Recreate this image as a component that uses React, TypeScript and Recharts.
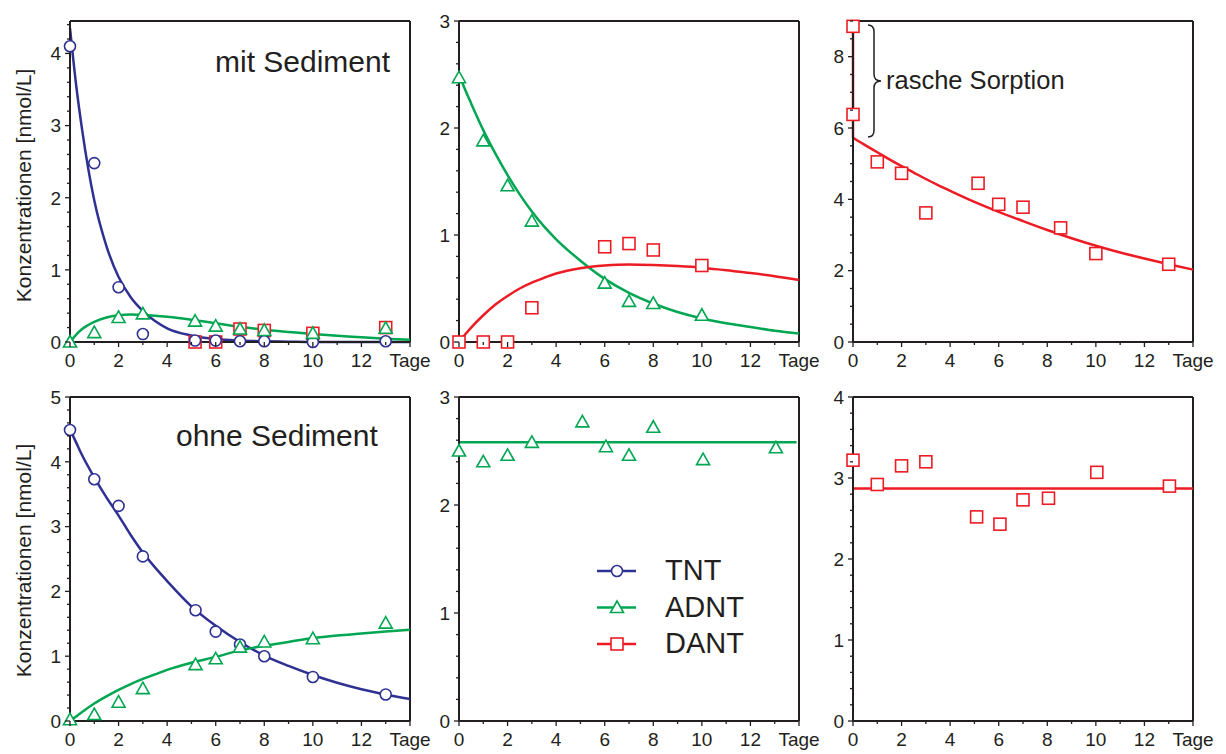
import { ComposedChart, Line, Scatter, XAxis, YAxis, ReferenceLine, Legend } from 'recharts'

const INK = '#231f20'
const BLUE = '#2e3192'
const GREEN = '#00a651'
const RED = '#ed1c24'
const FONT = "'Liberation Sans', Arial, Helvetica, sans-serif"

// x axis: days, last tick shows the unit
const xTicks = [0, 1, 2, 3, 4, 5, 6, 7, 8, 9, 10, 11, 12, 13, 14]
const xMajor = [0, 2, 4, 6, 8, 10, 12, 14]
const xUnit = 'Tage'

// days of the fitted curves
const fitDays = [0, 0.25, 0.5, 1, 1.5, 2, 2.5, 3, 3.5, 4, 5, 6, 7, 8, 9, 10, 11, 12, 13, 14]

// --- mit Sediment, TNT dosiert
const mitDays = [0, 1, 2, 3, 5.15, 6, 7, 8, 10, 13]
const mitTNT = [4.1, 2.48, 0.76, 0.11, 0.02, 0.02, 0.01, 0.01, 0.0, 0.01]
const mitADNT = [0.0, 0.13, 0.34, 0.39, 0.29, 0.22, 0.18, 0.16, 0.12, 0.19]
const mitDantDays = [5.15, 6, 7, 8, 10, 13]
const mitDANT = [0.0, 0.0, 0.18, 0.16, 0.12, 0.2]
const mitTNTFit = [4.35, 3.57, 2.94, 1.96, 1.33, 0.9, 0.62, 0.43, 0.29, 0.19, 0.09, 0.04, 0.02, 0.01, 0.005, 0, 0, 0, 0, 0]
const mitADNTFit = [0, 0.1, 0.18, 0.28, 0.34, 0.37, 0.38, 0.375, 0.365, 0.35, 0.31, 0.26, 0.21, 0.17, 0.14, 0.11, 0.085, 0.065, 0.045, 0.03]

// --- mit Sediment, ADNT dosiert
const adntDays = [0, 1, 2, 3, 6, 7, 8, 10]
const adntADNT = [2.47, 1.88, 1.46, 1.13, 0.55, 0.38, 0.36, 0.25]
const adntDANT = [0.0, 0.0, 0.0, 0.32, 0.89, 0.92, 0.86, 0.715]
const adntADNTFit = [2.5, 2.36, 2.23, 1.98, 1.76, 1.56, 1.38, 1.22, 1.08, 0.96, 0.76, 0.59, 0.46, 0.36, 0.28, 0.22, 0.175, 0.14, 0.105, 0.08]
const adntDANTFit = [0, 0.07, 0.135, 0.25, 0.35, 0.43, 0.5, 0.555, 0.6, 0.64, 0.69, 0.715, 0.725, 0.72, 0.71, 0.695, 0.67, 0.645, 0.615, 0.58]

// --- mit Sediment, DANT dosiert
const dantDays = [0, 0, 1, 2, 3, 5.15, 6, 7, 8.55, 10, 13]
const dantDANT = [8.85, 6.38, 5.05, 4.73, 3.62, 4.45, 3.86, 3.78, 3.2, 2.48, 2.18]
const sorptionDays = [0, 0]
const sorptionDANT = [8.85, 5.73]
const dantDANTFit = [5.73, 5.62, 5.52, 5.32, 5.12, 4.93, 4.75, 4.57, 4.4, 4.24, 3.93, 3.65, 3.39, 3.14, 2.91, 2.7, 2.51, 2.34, 2.18, 2.03]

// --- ohne Sediment, TNT dosiert
const ohneDays = [0, 1, 2, 3, 5.17, 6, 7, 8, 10, 13]
const ohneTNT = [4.49, 3.73, 3.32, 2.54, 1.71, 1.38, 1.18, 1.0, 0.68, 0.41]
const ohneADNT = [0.02, 0.1, 0.29, 0.5, 0.87, 0.96, 1.14, 1.22, 1.27, 1.51]
const ohneTNTFit = [4.5, 4.3, 4.1, 3.76, 3.45, 3.17, 2.87, 2.6, 2.37, 2.16, 1.77, 1.47, 1.22, 1.01, 0.85, 0.71, 0.59, 0.49, 0.41, 0.34]
const ohneADNTFit = [0, 0.07, 0.14, 0.27, 0.38, 0.48, 0.57, 0.65, 0.72, 0.79, 0.9, 0.99, 1.09, 1.16, 1.22, 1.28, 1.32, 1.35, 1.38, 1.41]

// --- ohne Sediment, ADNT dosiert
const ohneAdntDays = [0, 1, 2, 3, 5.08, 6.05, 7, 8, 10.05, 13.05]
const ohneAdntADNT = [2.5, 2.4, 2.46, 2.58, 2.77, 2.54, 2.46, 2.72, 2.42, 2.53]
const ohneAdntFitDays = [0, 13.9]
const ohneAdntFit = [2.58, 2.58]

// --- ohne Sediment, DANT dosiert
const ohneDantDays = [0, 1, 2, 3, 5.09, 6.05, 7, 8.05, 10.04, 13.03]
const ohneDantDANT = [3.22, 2.92, 3.15, 3.2, 2.52, 2.43, 2.73, 2.75, 3.07, 2.9]
const ohneDantFitDays = [0, 14]
const ohneDantFit = [2.87, 2.87]

const legendItems = [
    { name: 'TNT', color: BLUE, mark: 'circle' },
    { name: 'ADNT', color: GREEN, mark: 'triangle' },
    { name: 'DANT', color: RED, mark: 'square' },
]

const pts = (days: number[], vals: number[]) => days.map((t, i) => ({ t, v: vals[i] }))
const fit = (vals: number[]) => pts(fitDays, vals)
const steps = (max: number, step: number) =>
    Array.from({ length: Math.floor(max / step + 1e-9) + 1 }, (_, i) => Math.round(i * step * 100) / 100)

const Marker = ({ mark, color, cx, cy }: any) => {
    if (cx == null || cy == null) return null
    const common = { fill: '#fff', stroke: color, strokeWidth: 1.6 }
    if (mark === 'circle') return <circle cx={cx} cy={cy} r={5.5} {...common} />
    if (mark === 'square') return <rect x={cx - 6} y={cy - 6} width={12} height={12} {...common} />
    return <polygon points={`${cx},${cy - 6.5} ${cx - 6.5},${cy + 5} ${cx + 6.5},${cy + 5}`} {...common} />
}

const XTick = (props: any) => {
    const { x, y, payload } = props
    const v = payload.value
    const major = xMajor.includes(v)
    return (
        <g>
            <line x1={x} x2={x} y1={y} y2={y + (major ? 5 : 3)} stroke={INK} strokeWidth={1.3} />
            {major && (
                <text x={x} y={y + 25} textAnchor="middle" fontSize={19} fontFamily={FONT} fill={INK}>
                    {v === 14 ? xUnit : v}
                </text>
            )}
        </g>
    )
}

const YTick = (props: any) => {
    const { x, y, payload, majors } = props
    const v = payload.value
    const major = majors.includes(v)
    return (
        <g>
            <line x1={x - (major ? 5 : 3)} x2={x} y1={y} y2={y} stroke={INK} strokeWidth={1.3} />
            {major && (
                <text x={x - 9} y={y + 6.8} textAnchor="end" fontSize={19} fontFamily={FONT} fill={INK}>
                    {v}
                </text>
            )}
        </g>
    )
}

const LegendBox = () => (
    <svg width={200} height={112} style={{ display: 'block' }}>
        {legendItems.map((it, i) => {
            const cy = 18 + i * 36.5
            return (
                <g key={it.name}>
                    <line x1={0} x2={39} y1={cy} y2={cy} stroke={it.color} strokeWidth={2.5} />
                    <Marker mark={it.mark} color={it.color} cx={20} cy={cy} />
                    <text x={68} y={cy + 9} fontSize={29} fontFamily={FONT} fill={INK}>{it.name}</text>
                </g>
            )
        })}
    </svg>
)

interface PanelProps {
    x: number
    y: number
    h: number
    yMax: number
    yMajor: number[]
    yStep: number
    children?: any
}

const PLOT_W = 340
const PAD_L = 60
const PAD_T = 12
const PAD_R = 40
const AX_H = 34

function Panel({ x, y, h, yMax, yMajor, yStep, children }: PanelProps) {
    return (
        <div style={{ position: 'absolute', left: x - PAD_L, top: y - PAD_T }}>
            <ComposedChart
                width={PAD_L + PLOT_W + PAD_R}
                height={PAD_T + h + AX_H}
                margin={{ top: PAD_T, right: PAD_R, bottom: 0, left: 0 }}
            >
                <XAxis
                    type="number"
                    dataKey="t"
                    domain={[0, 14]}
                    ticks={xTicks}
                    interval={0}
                    height={AX_H}
                    tickSize={0}
                    tickMargin={0}
                    tickLine={false}
                    axisLine={{ stroke: INK, strokeWidth: 2 }}
                    tick={XTick}
                />
                <YAxis
                    type="number"
                    dataKey="v"
                    domain={[0, yMax]}
                    ticks={steps(yMax, yStep)}
                    interval={0}
                    width={PAD_L}
                    tickSize={0}
                    tickMargin={0}
                    tickLine={false}
                    axisLine={{ stroke: INK, strokeWidth: 2 }}
                    tick={(p: any) => <YTick {...p} majors={yMajor} />}
                />
                <ReferenceLine y={yMax} stroke={INK} strokeWidth={2} />
                <ReferenceLine x={14} stroke={INK} strokeWidth={2} />
                {children}
            </ComposedChart>
        </div>
    )
}

const fitLine = (key: string, data: any[], color: string, type: any = 'monotone') => (
    <Line
        key={key}
        data={data}
        dataKey="v"
        type={type}
        stroke={color}
        strokeWidth={2.5}
        dot={false}
        activeDot={false}
        isAnimationActive={false}
    />
)

const points = (key: string, data: any[], color: string, mark: string) => (
    <Scatter
        key={key}
        data={data}
        dataKey="v"
        isAnimationActive={false}
        shape={(p: any) => <Marker mark={mark} color={color} cx={p.cx} cy={p.cy} />}
    />
)

export default function App() {
    return (
        <div style={{ position: 'absolute', left: 0, top: 0, width: 1226, height: 754, overflow: 'hidden', background: '#fff' }}>
            <Panel x={70} y={21} h={321} yMax={4.45} yMajor={[0, 1, 2, 3, 4]} yStep={0.2}>
                {fitLine('f1', fit(mitTNTFit), BLUE)}
                {fitLine('f2', fit(mitADNTFit), GREEN)}
                {points('p3', pts(mitDantDays, mitDANT), RED, 'square')}
                {points('p1', pts(mitDays, mitTNT), BLUE, 'circle')}
                {points('p2', pts(mitDays, mitADNT), GREEN, 'triangle')}
            </Panel>
            <Panel x={459} y={21} h={321} yMax={3} yMajor={[0, 1, 2, 3]} yStep={0.2}>
                {fitLine('f1', fit(adntADNTFit), GREEN)}
                {fitLine('f2', fit(adntDANTFit), RED)}
                {points('p1', pts(adntDays, adntADNT), GREEN, 'triangle')}
                {points('p2', pts(adntDays, adntDANT), RED, 'square')}
            </Panel>
            <Panel x={853} y={21} h={321} yMax={9} yMajor={[0, 2, 4, 6, 8]} yStep={0.5}>
                {fitLine('f0', pts(sorptionDays, sorptionDANT), RED, 'linear')}
                {fitLine('f1', fit(dantDANTFit), RED)}
                {points('p1', pts(dantDays, dantDANT), RED, 'square')}
            </Panel>
            <Panel x={70} y={397} h={324} yMax={5} yMajor={[0, 1, 2, 3, 4, 5]} yStep={0.2}>
                {fitLine('f1', fit(ohneTNTFit), BLUE)}
                {fitLine('f2', fit(ohneADNTFit), GREEN)}
                {points('p1', pts(ohneDays, ohneTNT), BLUE, 'circle')}
                {points('p2', pts(ohneDays, ohneADNT), GREEN, 'triangle')}
            </Panel>
            <Panel x={459} y={397} h={324} yMax={3} yMajor={[0, 1, 2, 3]} yStep={0.2}>
                {fitLine('f1', pts(ohneAdntFitDays, ohneAdntFit), GREEN, 'linear')}
                {points('p1', pts(ohneAdntDays, ohneAdntADNT), GREEN, 'triangle')}
                <Legend
                    key="lg"
                    layout="vertical"
                    align="center"
                    verticalAlign="middle"
                    wrapperStyle={{ left: 198, top: 168, width: 200 }}
                    content={() => <LegendBox />}
                />
            </Panel>
            <Panel x={853} y={397} h={324} yMax={4} yMajor={[0, 1, 2, 3, 4]} yStep={0.2}>
                {fitLine('f1', pts(ohneDantFitDays, ohneDantFit), RED, 'linear')}
                {points('p1', pts(ohneDantDays, ohneDantDANT), RED, 'square')}
            </Panel>

            {/* annotations */}
            <svg
                width={1226}
                height={754}
                style={{ position: 'absolute', left: 0, top: 0, pointerEvents: 'none' }}
                fontFamily={FONT}
                fill={INK}
            >
                <text x={215} y={72} fontSize={30}>mit Sediment</text>
                <text x={176} y={446} fontSize={30}>ohne Sediment</text>
                <text x={886} y={89} fontSize={25.5}>rasche Sorption</text>
                <path
                    d="M868,25 Q874,25 874,32 L874,74 Q874,81 881,81 Q874,81 874,88 L874,130 Q874,137 868,137"
                    fill="none"
                    stroke={INK}
                    strokeWidth={1.5}
                />
                <text transform="translate(31,185.5) rotate(-90)" textAnchor="middle" fontSize={21}>
                    Konzentrationen [nmol/L]
                </text>
                <text transform="translate(31,560.5) rotate(-90)" textAnchor="middle" fontSize={21}>
                    Konzentrationen [nmol/L]
                </text>
            </svg>
        </div>
    )
}
